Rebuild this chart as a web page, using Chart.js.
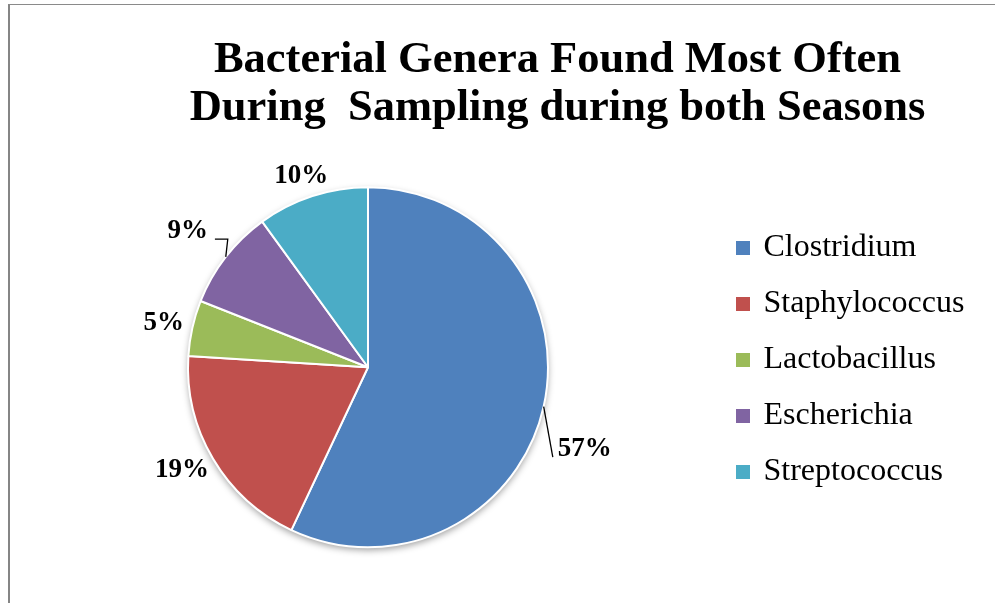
<!DOCTYPE html>
<html>
<head>
<meta charset="utf-8">
<title>Bacterial Genera Found Most Often</title>
<script src="https://cdn.jsdelivr.net/npm/chart.js@4/dist/chart.umd.min.js"></script>
<style>
  html, body { margin: 0; padding: 0; background: #fff; overflow: hidden; }
  #frame {
    position: absolute; left: 8px; top: 4px; width: 1200px; height: 700px;
    border-left: 2px solid #858585; border-top: 1px solid #8a8a8a;
    box-sizing: border-box; pointer-events: none;
  }
  #chart { position: absolute; left: 0; top: 0; }
</style>
</head>
<body>
<canvas id="chart" width="1115" height="603"></canvas>
<div id="frame"></div>
<script>
// Genera and their share of all isolates (percent)
const genera = ['Clostridium', 'Staphylococcus', 'Lactobacillus', 'Escherichia', 'Streptococcus'];
const shares = [57, 19, 5, 9, 10];
const sliceColors = ['#4F81BD', '#C0504D', '#9BBB59', '#8064A2', '#4BACC6'];
const titleLines = ['Bacterial Genera Found Most Often', 'During  Sampling during both Seasons'];

const SERIF = "'Liberation Serif', 'Times New Roman', serif";

// Soft drop shadow underneath the whole pie
const pieShadow = {
  id: 'pieShadow',
  beforeDatasetsDraw(chart) {
    const arc = chart.getDatasetMeta(0).data[0];
    if (!arc) return;
    const { x, y, outerRadius } = arc.getProps(['x', 'y', 'outerRadius'], true);
    const ctx = chart.ctx;
    ctx.save();
    ctx.shadowColor = 'rgba(0,0,0,0.38)';
    ctx.shadowBlur = 7;
    ctx.shadowOffsetY = 3;
    ctx.beginPath();
    ctx.arc(x, y, outerRadius, 0, Math.PI * 2);
    ctx.fillStyle = '#ffffff';
    ctx.fill();
    ctx.restore();
  }
};

// Legend column is given a fixed width so the plot sits left of the title centre
const legendWidth = {
  id: 'legendWidth',
  beforeLayout(chart, args, opts) {
    const legend = chart.legend;
    if (!legend || legend._widthPatched) return;
    const fit = legend.fit;
    legend.fit = function () {
      fit.call(this);
      this.width = Math.max(this.width, opts.width);
    };
    legend._widthPatched = true;
  }
};

// Percentage labels outside the slices, with leader lines for moved labels
const outsideLabels = {
  id: 'outsideLabels',
  afterDatasetsDraw(chart, args, opts) {
    const ctx = chart.ctx;
    const meta = chart.getDatasetMeta(0);
    const data = chart.data.datasets[0].data;
    ctx.save();
    ctx.font = `bold ${opts.size}px ${SERIF}`;
    ctx.fillStyle = '#000';
    ctx.textAlign = 'center';
    ctx.textBaseline = 'middle';
    meta.data.forEach((arc, i) => {
      const p = arc.getProps(['x', 'y', 'startAngle', 'endAngle', 'outerRadius'], true);
      const mid = (p.startAngle + p.endAngle) / 2;
      const ux = Math.cos(mid), uy = Math.sin(mid);
      const text = data[i] + '%';
      const hw = ctx.measureText(text).width / 2;
      const hh = opts.halfHeight;
      let cx = p.x + (p.outerRadius + opts.gap) * ux + hw * ux;
      let cy = p.y + (p.outerRadius + opts.gap) * uy + hh * uy;
      const moved = opts.moved[i];
      if (moved) {
        cx += moved.dx;
        cy += moved.dy;
        const ex = p.x + p.outerRadius * ux;
        const ey = p.y + p.outerRadius * uy;
        ctx.beginPath();
        ctx.lineWidth = 1.3;
        ctx.strokeStyle = '#000';
        ctx.moveTo(ex, ey);
        if (moved.side === 'left') {
          const ly = cy + moved.lineDy;
          ctx.lineTo(ex + 2, ly);
          ctx.lineTo(cx + hw + 7, ly);
        } else {
          ctx.lineTo(cx - hw - 5, cy + moved.lineDy);
        }
        ctx.stroke();
      }
      ctx.fillText(text, cx, cy);
    });
    ctx.restore();
  }
};

new Chart(document.getElementById('chart'), {
  type: 'pie',
  data: {
    labels: genera,
    datasets: [{
      data: shares,
      backgroundColor: sliceColors,
      borderColor: '#ffffff',
      borderWidth: 2,
      radius: 180
    }]
  },
  options: {
    responsive: false,
    animation: false,
    events: [],
    layout: { padding: { left: 21.5, right: 21.5, top: 0, bottom: 76.5 } },
    plugins: {
      title: {
        display: true,
        text: titleLines,
        color: '#000',
        font: { family: SERIF, size: 44.5, weight: 'bold', lineHeight: 1.09 },
        padding: { top: 36, bottom: 75 }
      },
      legend: {
        position: 'right',
        align: 'start',
        fullSize: false,
        labels: {
          boxWidth: 9,
          boxHeight: 9,
          padding: 24,
          color: '#000',
          font: { family: SERIF, size: 32 },
          // small square keys: the fill is widened by a stroke in the same colour
          generateLabels(chart) {
            const items = Chart.overrides.pie.plugins.legend.labels.generateLabels(chart);
            items.forEach(item => {
              item.strokeStyle = item.fillStyle;
              item.lineWidth = 5;
            });
            return items;
          }
        }
      },
      tooltip: { enabled: false },
      legendWidth: { width: 379 },
      outsideLabels: {
        size: 27,
        gap: 9,
        halfHeight: 12,
        moved: {
          0: { dx: 6, dy: 38, side: 'right', lineDy: 8 },
          3: { dx: -15, dy: -13, side: 'left', lineDy: 8 }
        }
      }
    }
  },
  plugins: [pieShadow, legendWidth, outsideLabels]
});
</script>
</body>
</html>
